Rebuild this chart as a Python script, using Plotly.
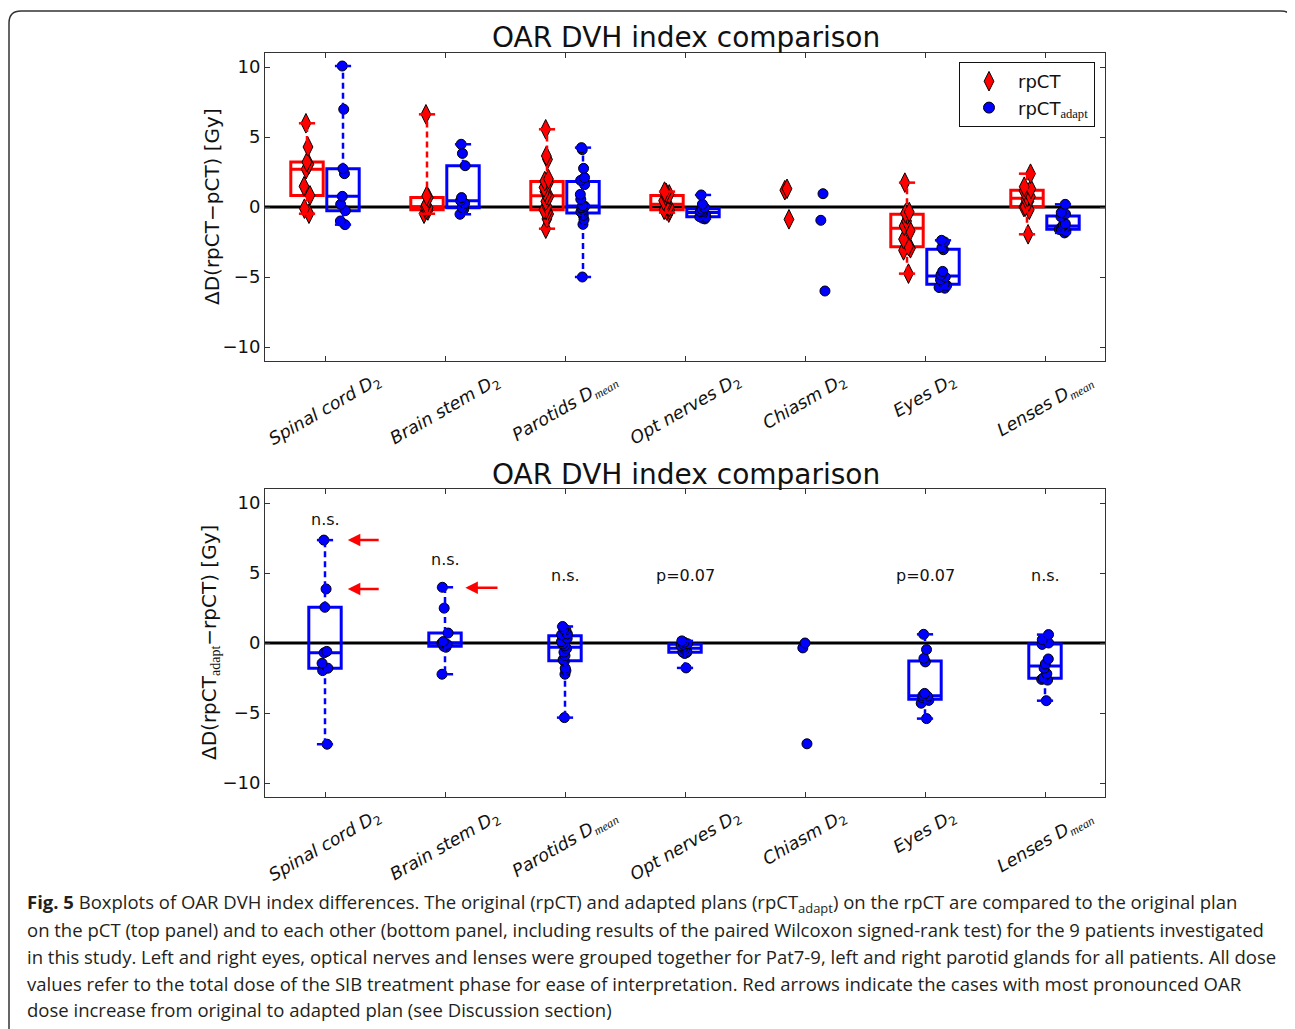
import numpy as np
import plotly.graph_objects as go

# ---------------- data ----------------
categories = ["Spinal cord", "Brain stem", "Parotids", "Opt nerves", "Chiasm", "Eyes", "Lenses"]
tick_labels = [
    "<i>Spinal cord D</i><sub>2</sub>",
    "<i>Brain stem D</i><sub>2</sub>",
    "<i>Parotids D</i><sub><span style=\"font-family:'Liberation Serif'\"><i>mean</i></span></sub>",
    "<i>Opt nerves D</i><sub>2</sub>",
    "<i>Chiasm D</i><sub>2</sub>",
    "<i>Eyes D</i><sub>2</sub>",
    "<i>Lenses D</i><sub><span style=\"font-family:'Liberation Serif'\"><i>mean</i></span></sub>",
]
has_box = [True, True, True, True, False, True, True]

# top panel: rpCT - pCT  (original plan on rpCT)
rpct_vs_pct = [
    [5.98, 4.29, 3.21, 3.05, 2.70, 1.48, 0.83, -0.12, -0.48],
    [6.62, 0.79, 0.67, 0.15, 0.02, -0.05, -0.20, -0.25, -0.48],
    [5.55, 3.65, 3.40, 2.00, 1.85, 1.75, 1.40, 1.10, 0.85, 0.75, 0.40, 0.05, -0.20, -0.20, -0.35, -0.50, -0.85, -1.55],
    [1.10, 1.00, 0.90, 0.80, 0.45, 0.23, 0.15, 0.00, -0.20, -0.22, -0.25, -0.40],
    [1.30, 1.20, -0.88],
    [1.74, -0.36, -0.45, -0.55, -1.00, -1.35, -1.70, -2.30, -2.80, -2.95, -3.10, -4.76],
    [2.38, 1.45, 1.30, 1.15, 0.75, 0.70, 0.55, 0.40, 0.02, 0.00, -0.20, -1.95],
]
# top panel: rpCT_adapt - pCT  (adapted plan on rpCT)
adapt_vs_pct = [
    [10.07, 6.98, 2.74, 2.38, 0.76, 0.19, -0.26, -1.00, -1.26],
    [4.48, 3.83, 2.95, 0.67, 0.45, 0.26, -0.05, -0.17, -0.52],
    [4.24, 4.10, 2.76, 2.10, 1.90, 1.60, 0.90, 0.55, 0.10, 0.05, -0.05, -0.20, -0.35, -0.45, -0.60, -0.90, -1.24, -5.00],
    [0.86, 0.20, -0.05, -0.15, -0.30, -0.35, -0.45, -0.55, -0.70, -0.72, -0.80, -0.85],
    [0.95, -0.95, -6.00],
    [-2.38, -2.50, -2.90, -3.05, -4.60, -4.85, -5.00, -5.20, -5.50, -5.60, -5.75, -5.80],
    [0.19, -0.40, -0.50, -0.70, -1.20, -1.30, -1.40, -1.50, -1.58, -1.60, -1.75, -1.85],
]
# bottom panel: rpCT_adapt - rpCT
adapt_vs_rpct = [
    [7.35, 3.86, 2.55, -0.60, -0.70, -1.45, -1.80, -1.97, -7.23],
    [3.98, 2.49, 0.71, 0.10, 0.00, -0.10, -0.24, -0.30, -2.23],
    [1.18, 1.00, 0.95, 0.65, 0.59, 0.33, 0.10, -0.07, -0.20, -0.40, -0.66, -0.90, -1.20, -1.30, -1.80, -1.97, -2.23, -5.33],
    [0.15, 0.05, -0.05, -0.10, -0.20, -0.30, -0.45, -0.60, -0.65, -0.68, -0.75, -1.78],
    [0.00, -0.35, -7.20],
    [0.62, -0.47, -1.10, -1.35, -3.60, -3.75, -3.80, -3.90, -4.00, -4.10, -4.30, -5.40],
    [0.60, 0.24, 0.00, -0.10, -1.14, -1.50, -1.80, -2.20, -2.50, -2.60, -2.65, -4.12],
]
significance = ["n.s.", "n.s.", "n.s.", "p=0.07", "", "p=0.07", "n.s."]

caption_lines = [
    "<b>Fig. 5</b> Boxplots of OAR DVH index differences. The original (rpCT) and adapted plans (rpCT<sub>adapt</sub>) on the rpCT are compared to the original plan",
    "on the pCT (top panel) and to each other (bottom panel, including results of the paired Wilcoxon signed-rank test) for the 9 patients investigated",
    "in this study. Left and right eyes, optical nerves and lenses were grouped together for Pat7-9, left and right parotid glands for all patients. All dose",
    "values refer to the total dose of the SIB treatment phase for ease of interpretation. Red arrows indicate the cases with most pronounced OAR",
    "dose increase from original to adapted plan (see Discussion section)",
]

# ---------------- layout helpers ----------------
W, H = 1287, 1021
OFF = 8


def fx(X):
    return (X - OFF) / W


def fy(Y):
    return 1 - (Y - OFF) / H


RED = "#ff0000"
BLUE = "#0000ff"
BOX_W = 0.27
FONT = "DejaVu Sans"
sig_y = [8.8, 6.0, 4.8, 4.8, 4.8, 4.8, 4.8]

fig = go.Figure()


def add_group(values, offset, color, symbol, msize, xa, ya):
    pos, q1s, meds, q3s = [], [], [], []
    wx, wy, cx, cy = [], [], [], []
    for i, vals in enumerate(values):
        if not has_box[i]:
            continue
        v = np.array(vals, dtype=float)
        q1, med, q3 = np.percentile(v, [25, 50, 75])
        p = i + offset
        pos.append(p); q1s.append(q1); meds.append(med); q3s.append(q3)
        wx += [p, p, None, p, p, None]
        wy += [q3, v.max(), None, q1, v.min(), None]
        cx += [p - BOX_W / 4, p + BOX_W / 4, None, p - BOX_W / 4, p + BOX_W / 4, None]
        cy += [v.max(), v.max(), None, v.min(), v.min(), None]
    fig.add_trace(go.Box(x=pos, q1=q1s, median=meds, q3=q3s, lowerfence=q1s, upperfence=q3s,
                         width=BOX_W, whiskerwidth=0, boxpoints=False,
                         line=dict(color=color, width=3), fillcolor="rgba(0,0,0,0)",
                         showlegend=False, hoverinfo="skip", xaxis=xa, yaxis=ya))
    fig.add_trace(go.Scatter(x=wx, y=wy, mode="lines", line=dict(color=color, width=2.5, dash="6px,4px"),
                             showlegend=False, hoverinfo="skip", xaxis=xa, yaxis=ya))
    fig.add_trace(go.Scatter(x=cx, y=cy, mode="lines", line=dict(color=color, width=2.5),
                             showlegend=False, hoverinfo="skip", xaxis=xa, yaxis=ya))
    px, py = [], []
    for i, vals in enumerate(values):
        px += [i + offset] * len(vals)
        py += list(vals)
    fig.add_trace(go.Box(x=px, y=py, boxpoints="all", jitter=0.25, pointpos=0, width=BOX_W,
                         line=dict(width=0, color="rgba(0,0,0,0)"), fillcolor="rgba(0,0,0,0)",
                         marker=dict(symbol=symbol, color=color, size=msize,
                                     line=dict(color="black", width=1)),
                         showlegend=False, xaxis=xa, yaxis=ya))


add_group(rpct_vs_pct, -0.15, RED, "diamond-tall", 14, "x", "y")
add_group(adapt_vs_pct, 0.15, BLUE, "circle", 10, "x", "y")
add_group(adapt_vs_rpct, 0.0, BLUE, "circle", 10, "x2", "y2")

# legend entries
fig.add_trace(go.Scatter(x=[None], y=[None], mode="markers", name="rpCT",
                         marker=dict(symbol="diamond-tall", color=RED, size=14, line=dict(color="black", width=1)),
                         xaxis="x", yaxis="y"))
fig.add_trace(go.Scatter(x=[None], y=[None], mode="markers",
                         name="rpCT<sub><span style=\"font-family:'Liberation Serif'\">adapt</span></sub>",
                         marker=dict(symbol="circle", color=BLUE, size=11, line=dict(color="black", width=1)),
                         xaxis="x", yaxis="y"))

axis_common = dict(showline=True, linecolor="#333", linewidth=1, mirror="allticks", ticks="inside",
                   ticklen=5, tickcolor="#333", showgrid=False, zeroline=False)
xcommon = dict(axis_common, range=[-0.5, 6.5], tickvals=list(range(len(categories))), showticklabels=False)
ycommon = dict(axis_common, range=[-11, 11], tickvals=[-10, -5, 0, 5, 10],
               ticktext=["\u221210", "\u22125", "0", "5", "10"],
               tickfont=dict(family=FONT, size=18, color="#111"))

fig.update_layout(
    width=W, height=H,
    margin=dict(l=0, r=0, t=0, b=0, autoexpand=False),
    paper_bgcolor="white", plot_bgcolor="white",
    font=dict(family=FONT, color="#111"),
    boxmode="overlay",
    xaxis=dict(xcommon, domain=[fx(265), fx(1105)], anchor="y"),
    yaxis=dict(ycommon, domain=[fy(361), fy(53)], anchor="x"),
    xaxis2=dict(xcommon, domain=[fx(265), fx(1105)], anchor="y2"),
    yaxis2=dict(ycommon, domain=[fy(797), fy(489)], anchor="x2"),
    legend=dict(x=fx(1095), y=fy(62), xanchor="right", yanchor="top", bordercolor="#111", borderwidth=1,
                bgcolor="white", font=dict(family=FONT, size=18, color="#111"), tracegroupgap=0,
                itemwidth=48),
    showlegend=True,
)

shapes = []
for ya in ["y", "y2"]:
    xa = "x" if ya == "y" else "x2"
    shapes.append(dict(type="line", xref=xa + " domain", x0=0, x1=1, yref=ya, y0=0, y1=0,
                       line=dict(color="black", width=3), layer="below"))
# rounded outer frame
r = 12
L, T, R, B = fx(9), fy(11), fx(1293), fy(1045)
rx, ry = r / W, r / H
path = (f"M {L},{B} L {L},{T - ry} Q {L},{T} {L + rx},{T} L {R - rx},{T} Q {R},{T} {R},{T - ry} L {R},{B}")
shapes.append(dict(type="path", xref="paper", yref="paper", path=path, line=dict(color="#333", width=1.5)))
fig.update_layout(shapes=shapes)

ann = []
# titles
for yy in [38, 474]:
    ann.append(dict(text="OAR DVH index comparison", xref="paper", yref="paper", x=fx(686), y=fy(yy),
                    xanchor="center", yanchor="middle", showarrow=False, font=dict(size=28, family=FONT, color="#111")))
# y titles
ann.append(dict(text="\u0394D(rpCT\u2212pCT) [Gy]", xref="paper", yref="paper", x=fx(212), y=fy(207),
                textangle=-90, xanchor="center", yanchor="middle", showarrow=False,
                font=dict(size=20, family=FONT, color="#111")))
ann.append(dict(text="\u0394D(rpCT<sub><span style=\"font-family:'Liberation Serif'\">adapt</span></sub>\u2212rpCT) [Gy]",
                xref="paper", yref="paper", x=fx(210), y=fy(643),
                textangle=-90, xanchor="center", yanchor="middle", showarrow=False,
                font=dict(size=20, family=FONT, color="#111")))
# category tick labels
for i, lab in enumerate(tick_labels):
    for ytop in [367, 803]:
        xa = "x" if ytop == 367 else "x2"
        ann.append(dict(text=lab, xref=xa, yref="paper", x=i, y=fy(ytop), textangle=-30,
                        xanchor="center", yanchor="top", showarrow=False,
                        font=dict(size=17.5, family=FONT, color="#111")))
# significance
for i, s in enumerate(significance):
    if s:
        ann.append(dict(text=s, xref="x2", yref="y2", x=i, y=sig_y[i], showarrow=False,
                        xanchor="center", yanchor="middle", font=dict(size=16, family=FONT, color="#111")))
# red arrows
for hx, tx, yv in [(0.19, 0.46, 7.35), (0.19, 0.46, 3.86), (1.17, 1.45, 3.95)]:
    ann.append(dict(x=hx, y=yv, ax=tx, ay=yv, xref="x2", yref="y2", axref="x2", ayref="y2", text="",
                    showarrow=True, arrowhead=2, arrowsize=1, arrowwidth=2.5, arrowcolor=RED, standoff=0))
# caption
for k, line in enumerate(caption_lines):
    ann.append(dict(text=line, xref="paper", yref="paper", x=fx(25), y=fy(903 + 26.7 * k),
                    xanchor="left", yanchor="middle", showarrow=False,
                    font=dict(size=18.5, family="Open Sans", color="#231f20")))
fig.update_layout(annotations=ann)

fig.write_html("out.html")
